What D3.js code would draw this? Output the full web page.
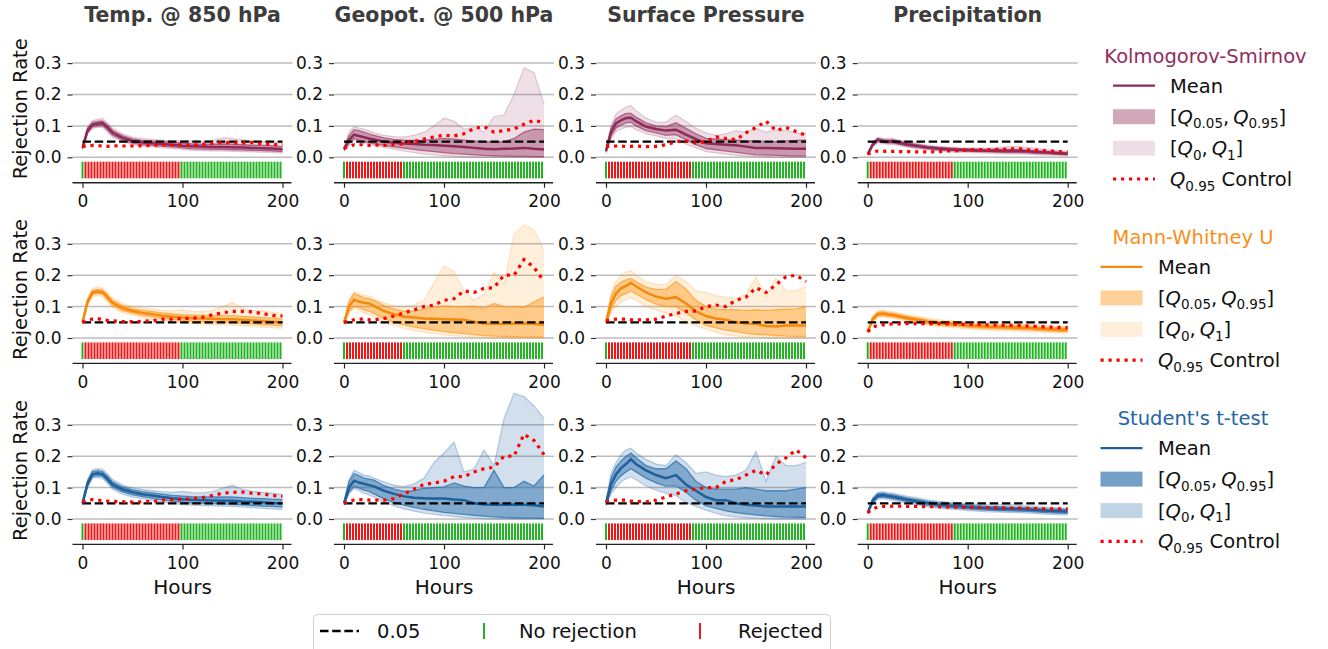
<!DOCTYPE html>
<html>
<head>
<meta charset="utf-8">
<script src="https://cdn.jsdelivr.net/npm/d3@7"></script>
<style>
  body { margin: 0; background: #fff; }
  text { font-family: "DejaVu Sans", sans-serif; }
</style>
</head>
<body>
<div id="chart"></div>
<script>
// lead times (hours) at which the curves are read
var hours = [0, 5, 10, 15, 20, 25, 30, 40, 50, 60, 70, 80, 90, 100, 110, 120, 130, 140, 150, 160, 170, 180, 190, 200];
var variables = ["Temp. @ 850 hPa", "Geopot. @ 500 hPa", "Surface Pressure", "Precipitation"];
var testNames = ["Kolmogorov-Smirnov", "Mann-Whitney U", "Student's t-test"];
var yTicks = [0, 0.1, 0.2, 0.3];
var xTicks = [0, 100, 200];
var threshold = 0.05;
// rejection test time steps (every 3 h) and the span of rejected steps per variable
var stepHours = d3.range(0, 201, 3);
var rejectedSpan = [[3, 96], [3, 57], [3, 84], [3, 84]];

// ---- Kolmogorov-Smirnov (rows: temp, geopot, surface pressure, precip)
var ksMean = [
  [0.030, 0.085, 0.104, 0.107, 0.109, 0.095, 0.078, 0.062, 0.052, 0.047, 0.045, 0.042, 0.040, 0.037, 0.035, 0.034, 0.033, 0.033, 0.032, 0.031, 0.030, 0.029, 0.028, 0.026],
  [0.025, 0.055, 0.072, 0.068, 0.064, 0.060, 0.057, 0.050, 0.046, 0.044, 0.042, 0.040, 0.039, 0.037, 0.035, 0.033, 0.030, 0.027, 0.026, 0.027, 0.028, 0.030, 0.027, 0.025],
  [0.020, 0.080, 0.108, 0.118, 0.125, 0.126, 0.115, 0.098, 0.090, 0.085, 0.088, 0.072, 0.058, 0.045, 0.042, 0.040, 0.038, 0.034, 0.030, 0.030, 0.029, 0.028, 0.027, 0.027],
  [0.010, 0.040, 0.056, 0.052, 0.050, 0.051, 0.047, 0.041, 0.036, 0.031, 0.028, 0.026, 0.024, 0.023, 0.022, 0.021, 0.021, 0.020, 0.020, 0.019, 0.017, 0.015, 0.013, 0.011]
];
var ksQ95 = [
  [0.033, 0.092, 0.111, 0.114, 0.116, 0.103, 0.086, 0.069, 0.059, 0.054, 0.052, 0.050, 0.048, 0.045, 0.043, 0.042, 0.042, 0.043, 0.042, 0.040, 0.039, 0.038, 0.037, 0.034],
  [0.029, 0.068, 0.088, 0.085, 0.080, 0.075, 0.070, 0.062, 0.057, 0.055, 0.054, 0.055, 0.057, 0.060, 0.058, 0.055, 0.052, 0.050, 0.048, 0.050, 0.060, 0.080, 0.090, 0.088],
  [0.024, 0.092, 0.122, 0.132, 0.140, 0.140, 0.128, 0.110, 0.100, 0.098, 0.110, 0.092, 0.075, 0.060, 0.058, 0.056, 0.055, 0.052, 0.053, 0.050, 0.050, 0.052, 0.054, 0.055],
  [0.012, 0.045, 0.060, 0.057, 0.055, 0.056, 0.052, 0.046, 0.040, 0.035, 0.032, 0.030, 0.028, 0.027, 0.026, 0.025, 0.026, 0.025, 0.025, 0.023, 0.021, 0.019, 0.017, 0.015]
];
var ksQ05 = [
  [0.027, 0.078, 0.097, 0.100, 0.102, 0.087, 0.070, 0.055, 0.045, 0.040, 0.038, 0.035, 0.033, 0.030, 0.027, 0.026, 0.025, 0.025, 0.024, 0.023, 0.022, 0.021, 0.020, 0.018],
  [0.022, 0.045, 0.060, 0.055, 0.050, 0.047, 0.043, 0.038, 0.033, 0.029, 0.025, 0.021, 0.018, 0.015, 0.012, 0.010, 0.008, 0.006, 0.005, 0.004, 0.003, 0.003, 0.002, 0.002],
  [0.017, 0.068, 0.093, 0.102, 0.110, 0.112, 0.100, 0.085, 0.078, 0.070, 0.072, 0.055, 0.040, 0.028, 0.024, 0.020, 0.016, 0.012, 0.008, 0.007, 0.006, 0.005, 0.004, 0.004],
  [0.008, 0.036, 0.051, 0.047, 0.045, 0.046, 0.042, 0.036, 0.031, 0.027, 0.024, 0.022, 0.020, 0.019, 0.018, 0.017, 0.016, 0.015, 0.015, 0.014, 0.012, 0.011, 0.009, 0.008]
];
var ksQ1 = [
  [0.036, 0.097, 0.117, 0.121, 0.124, 0.110, 0.093, 0.075, 0.064, 0.060, 0.057, 0.055, 0.054, 0.053, 0.052, 0.051, 0.054, 0.062, 0.060, 0.056, 0.052, 0.050, 0.052, 0.045],
  [0.032, 0.080, 0.097, 0.093, 0.090, 0.085, 0.078, 0.070, 0.066, 0.065, 0.070, 0.080, 0.100, 0.125, 0.115, 0.090, 0.095, 0.080, 0.130, 0.135, 0.200, 0.285, 0.270, 0.170],
  [0.028, 0.100, 0.138, 0.150, 0.160, 0.165, 0.148, 0.125, 0.112, 0.112, 0.135, 0.115, 0.092, 0.078, 0.070, 0.075, 0.085, 0.080, 0.092, 0.080, 0.088, 0.085, 0.078, 0.075],
  [0.014, 0.048, 0.064, 0.061, 0.060, 0.060, 0.056, 0.050, 0.044, 0.039, 0.035, 0.033, 0.031, 0.030, 0.030, 0.029, 0.031, 0.034, 0.035, 0.031, 0.028, 0.024, 0.021, 0.018]
];
var ksQ0 = [
  [0.024, 0.073, 0.092, 0.095, 0.096, 0.080, 0.064, 0.050, 0.040, 0.035, 0.033, 0.030, 0.028, 0.025, 0.022, 0.021, 0.020, 0.020, 0.019, 0.018, 0.017, 0.016, 0.015, 0.013],
  [0.020, 0.038, 0.055, 0.050, 0.045, 0.040, 0.037, 0.032, 0.026, 0.020, 0.015, 0.010, 0.007, 0.005, 0.003, 0.001, 0, 0, 0, 0, 0, 0, 0, 0],
  [0.012, 0.058, 0.082, 0.090, 0.095, 0.098, 0.088, 0.075, 0.068, 0.060, 0.058, 0.042, 0.030, 0.018, 0.014, 0.010, 0.006, 0.004, 0.002, 0.001, 0, 0, 0, 0],
  [0.006, 0.032, 0.047, 0.043, 0.041, 0.041, 0.038, 0.032, 0.027, 0.023, 0.020, 0.018, 0.016, 0.015, 0.014, 0.013, 0.012, 0.011, 0.011, 0.010, 0.008, 0.007, 0.006, 0.005]
];
var ksCtrl = [
  [0.035, 0.036, 0.038, 0.037, 0.036, 0.035, 0.037, 0.036, 0.036, 0.037, 0.038, 0.040, 0.039, 0.040, 0.038, 0.041, 0.044, 0.047, 0.046, 0.045, 0.047, 0.043, 0.041, 0.040],
  [0.030, 0.035, 0.040, 0.040, 0.040, 0.038, 0.040, 0.038, 0.040, 0.043, 0.050, 0.058, 0.065, 0.070, 0.068, 0.075, 0.092, 0.098, 0.080, 0.085, 0.090, 0.105, 0.118, 0.110],
  [0.035, 0.035, 0.036, 0.036, 0.034, 0.035, 0.036, 0.034, 0.035, 0.040, 0.050, 0.052, 0.045, 0.050, 0.065, 0.060, 0.056, 0.078, 0.095, 0.115, 0.085, 0.095, 0.082, 0.070],
  [0.010, 0.017, 0.020, 0.019, 0.020, 0.019, 0.018, 0.018, 0.017, 0.017, 0.018, 0.020, 0.021, 0.023, 0.025, 0.024, 0.025, 0.026, 0.028, 0.024, 0.022, 0.020, 0.018, 0.017]
];

// ---- Mann-Whitney U
var mwMean = [
  [0.050, 0.115, 0.145, 0.148, 0.146, 0.130, 0.112, 0.095, 0.086, 0.080, 0.076, 0.071, 0.068, 0.065, 0.063, 0.062, 0.061, 0.060, 0.060, 0.058, 0.056, 0.054, 0.052, 0.050],
  [0.048, 0.100, 0.122, 0.116, 0.112, 0.110, 0.102, 0.086, 0.076, 0.068, 0.065, 0.062, 0.061, 0.060, 0.059, 0.058, 0.052, 0.046, 0.045, 0.045, 0.046, 0.047, 0.045, 0.042],
  [0.050, 0.110, 0.142, 0.158, 0.166, 0.175, 0.165, 0.145, 0.132, 0.125, 0.130, 0.110, 0.085, 0.070, 0.062, 0.058, 0.050, 0.046, 0.045, 0.038, 0.037, 0.040, 0.040, 0.040],
  [0.020, 0.060, 0.076, 0.078, 0.075, 0.073, 0.070, 0.063, 0.058, 0.052, 0.048, 0.045, 0.043, 0.040, 0.038, 0.036, 0.035, 0.034, 0.033, 0.032, 0.030, 0.028, 0.027, 0.026]
];
var mwQ95 = [
  [0.053, 0.122, 0.152, 0.155, 0.153, 0.138, 0.120, 0.103, 0.093, 0.088, 0.084, 0.080, 0.077, 0.074, 0.073, 0.072, 0.071, 0.071, 0.071, 0.069, 0.067, 0.065, 0.063, 0.061],
  [0.052, 0.115, 0.142, 0.135, 0.128, 0.125, 0.120, 0.103, 0.092, 0.085, 0.086, 0.092, 0.098, 0.102, 0.100, 0.100, 0.101, 0.095, 0.110, 0.100, 0.100, 0.098, 0.115, 0.130],
  [0.055, 0.130, 0.165, 0.178, 0.185, 0.190, 0.180, 0.162, 0.155, 0.155, 0.180, 0.155, 0.120, 0.100, 0.092, 0.090, 0.090, 0.088, 0.090, 0.088, 0.090, 0.092, 0.093, 0.100],
  [0.022, 0.066, 0.082, 0.084, 0.081, 0.079, 0.076, 0.069, 0.064, 0.058, 0.054, 0.051, 0.049, 0.046, 0.044, 0.042, 0.041, 0.040, 0.039, 0.038, 0.036, 0.034, 0.033, 0.032]
];
var mwQ05 = [
  [0.047, 0.108, 0.138, 0.141, 0.139, 0.122, 0.104, 0.087, 0.079, 0.072, 0.068, 0.062, 0.059, 0.056, 0.053, 0.052, 0.051, 0.050, 0.049, 0.047, 0.045, 0.043, 0.041, 0.039],
  [0.045, 0.085, 0.102, 0.096, 0.090, 0.086, 0.078, 0.062, 0.050, 0.042, 0.035, 0.030, 0.025, 0.020, 0.017, 0.014, 0.011, 0.008, 0.006, 0.005, 0.004, 0.003, 0.003, 0.002],
  [0.046, 0.090, 0.120, 0.135, 0.142, 0.150, 0.140, 0.122, 0.108, 0.100, 0.100, 0.080, 0.058, 0.040, 0.032, 0.025, 0.020, 0.015, 0.012, 0.010, 0.008, 0.006, 0.005, 0.005],
  [0.018, 0.054, 0.070, 0.072, 0.069, 0.067, 0.064, 0.057, 0.052, 0.046, 0.042, 0.039, 0.037, 0.034, 0.032, 0.030, 0.029, 0.028, 0.027, 0.026, 0.024, 0.022, 0.021, 0.020]
];
var mwQ1 = [
  [0.056, 0.128, 0.158, 0.162, 0.160, 0.146, 0.128, 0.110, 0.100, 0.095, 0.092, 0.088, 0.086, 0.090, 0.085, 0.084, 0.088, 0.100, 0.112, 0.095, 0.088, 0.086, 0.082, 0.078],
  [0.055, 0.122, 0.148, 0.142, 0.136, 0.134, 0.126, 0.112, 0.103, 0.100, 0.105, 0.120, 0.175, 0.230, 0.210, 0.150, 0.120, 0.140, 0.210, 0.170, 0.330, 0.360, 0.345, 0.280],
  [0.058, 0.145, 0.180, 0.200, 0.210, 0.215, 0.200, 0.180, 0.170, 0.170, 0.200, 0.180, 0.150, 0.145, 0.135, 0.130, 0.125, 0.140, 0.195, 0.130, 0.190, 0.150, 0.150, 0.165],
  [0.024, 0.070, 0.087, 0.089, 0.086, 0.084, 0.081, 0.074, 0.069, 0.063, 0.059, 0.056, 0.054, 0.051, 0.049, 0.047, 0.047, 0.048, 0.046, 0.044, 0.042, 0.039, 0.037, 0.036]
];
var mwQ0 = [
  [0.044, 0.102, 0.132, 0.135, 0.132, 0.114, 0.097, 0.080, 0.072, 0.065, 0.060, 0.055, 0.051, 0.048, 0.045, 0.044, 0.043, 0.042, 0.041, 0.039, 0.037, 0.035, 0.033, 0.031],
  [0.043, 0.078, 0.095, 0.088, 0.080, 0.075, 0.068, 0.052, 0.040, 0.030, 0.024, 0.018, 0.014, 0.010, 0.007, 0.005, 0.003, 0.001, 0, 0, 0, 0, 0, 0],
  [0.043, 0.080, 0.100, 0.115, 0.122, 0.128, 0.120, 0.100, 0.090, 0.080, 0.072, 0.050, 0.038, 0.028, 0.018, 0.010, 0.006, 0.004, 0.002, 0.001, 0, 0, 0, 0],
  [0.016, 0.050, 0.065, 0.067, 0.064, 0.062, 0.059, 0.052, 0.047, 0.041, 0.037, 0.034, 0.032, 0.029, 0.027, 0.025, 0.024, 0.023, 0.022, 0.021, 0.019, 0.017, 0.016, 0.015]
];
var mwCtrl = [
  [0.050, 0.058, 0.060, 0.062, 0.058, 0.056, 0.055, 0.052, 0.052, 0.053, 0.055, 0.060, 0.060, 0.062, 0.063, 0.066, 0.074, 0.080, 0.085, 0.085, 0.083, 0.078, 0.072, 0.070],
  [0.050, 0.055, 0.058, 0.060, 0.060, 0.058, 0.058, 0.062, 0.070, 0.080, 0.090, 0.100, 0.105, 0.120, 0.125, 0.150, 0.145, 0.158, 0.160, 0.200, 0.200, 0.250, 0.225, 0.180],
  [0.055, 0.058, 0.060, 0.060, 0.060, 0.058, 0.058, 0.058, 0.060, 0.070, 0.078, 0.085, 0.086, 0.100, 0.105, 0.100, 0.120, 0.130, 0.160, 0.145, 0.170, 0.195, 0.200, 0.180],
  [0.020, 0.035, 0.040, 0.042, 0.044, 0.045, 0.045, 0.046, 0.046, 0.045, 0.046, 0.045, 0.044, 0.043, 0.043, 0.042, 0.041, 0.040, 0.040, 0.038, 0.037, 0.035, 0.034, 0.033]
];

// ---- Student's t-test
var ttMean = [
  [0.050, 0.112, 0.143, 0.146, 0.143, 0.128, 0.110, 0.094, 0.085, 0.079, 0.075, 0.070, 0.066, 0.063, 0.061, 0.060, 0.059, 0.058, 0.058, 0.056, 0.055, 0.053, 0.051, 0.050],
  [0.050, 0.100, 0.122, 0.116, 0.112, 0.108, 0.104, 0.090, 0.080, 0.072, 0.068, 0.066, 0.065, 0.065, 0.062, 0.060, 0.050, 0.046, 0.045, 0.045, 0.046, 0.045, 0.044, 0.040],
  [0.050, 0.110, 0.142, 0.162, 0.175, 0.190, 0.175, 0.155, 0.140, 0.130, 0.140, 0.110, 0.090, 0.070, 0.060, 0.060, 0.050, 0.045, 0.043, 0.040, 0.040, 0.040, 0.040, 0.040],
  [0.020, 0.058, 0.074, 0.076, 0.073, 0.071, 0.068, 0.061, 0.056, 0.050, 0.046, 0.043, 0.041, 0.038, 0.036, 0.034, 0.033, 0.032, 0.031, 0.030, 0.028, 0.026, 0.025, 0.024]
];
var ttQ95 = [
  [0.053, 0.120, 0.151, 0.154, 0.151, 0.136, 0.118, 0.102, 0.093, 0.087, 0.083, 0.079, 0.075, 0.073, 0.071, 0.070, 0.070, 0.070, 0.070, 0.068, 0.066, 0.065, 0.063, 0.062],
  [0.054, 0.118, 0.145, 0.138, 0.130, 0.127, 0.124, 0.106, 0.095, 0.088, 0.090, 0.098, 0.100, 0.102, 0.115, 0.105, 0.100, 0.100, 0.155, 0.100, 0.100, 0.120, 0.105, 0.140],
  [0.055, 0.130, 0.165, 0.185, 0.200, 0.210, 0.195, 0.170, 0.160, 0.160, 0.185, 0.160, 0.120, 0.100, 0.095, 0.095, 0.095, 0.100, 0.095, 0.090, 0.090, 0.090, 0.095, 0.100],
  [0.022, 0.064, 0.080, 0.082, 0.079, 0.077, 0.074, 0.067, 0.062, 0.056, 0.052, 0.049, 0.047, 0.044, 0.042, 0.040, 0.039, 0.038, 0.037, 0.036, 0.034, 0.032, 0.031, 0.030]
];
var ttQ05 = [
  [0.047, 0.105, 0.135, 0.138, 0.135, 0.120, 0.102, 0.086, 0.077, 0.071, 0.066, 0.061, 0.057, 0.053, 0.051, 0.050, 0.049, 0.048, 0.047, 0.045, 0.043, 0.041, 0.040, 0.038],
  [0.046, 0.086, 0.104, 0.098, 0.092, 0.088, 0.080, 0.064, 0.052, 0.044, 0.037, 0.031, 0.026, 0.021, 0.018, 0.015, 0.012, 0.009, 0.007, 0.005, 0.004, 0.003, 0.003, 0.002],
  [0.046, 0.090, 0.120, 0.138, 0.150, 0.160, 0.150, 0.130, 0.115, 0.105, 0.105, 0.085, 0.060, 0.042, 0.034, 0.026, 0.020, 0.016, 0.013, 0.010, 0.008, 0.006, 0.005, 0.005],
  [0.018, 0.052, 0.068, 0.070, 0.067, 0.065, 0.062, 0.055, 0.050, 0.044, 0.040, 0.037, 0.035, 0.032, 0.030, 0.028, 0.027, 0.026, 0.025, 0.024, 0.022, 0.020, 0.019, 0.018]
];
var ttQ1 = [
  [0.056, 0.126, 0.157, 0.160, 0.158, 0.144, 0.126, 0.108, 0.099, 0.094, 0.090, 0.087, 0.085, 0.088, 0.084, 0.083, 0.087, 0.098, 0.108, 0.094, 0.088, 0.085, 0.082, 0.078],
  [0.057, 0.126, 0.155, 0.148, 0.140, 0.137, 0.130, 0.118, 0.108, 0.103, 0.112, 0.130, 0.180, 0.210, 0.245, 0.150, 0.160, 0.220, 0.170, 0.320, 0.400, 0.390, 0.360, 0.320],
  [0.058, 0.145, 0.180, 0.205, 0.220, 0.225, 0.210, 0.190, 0.175, 0.170, 0.205, 0.180, 0.145, 0.150, 0.140, 0.135, 0.140, 0.155, 0.215, 0.120, 0.200, 0.170, 0.170, 0.180],
  [0.024, 0.068, 0.085, 0.087, 0.084, 0.082, 0.079, 0.072, 0.067, 0.061, 0.057, 0.054, 0.052, 0.049, 0.047, 0.045, 0.045, 0.046, 0.044, 0.042, 0.040, 0.037, 0.035, 0.034]
];
var ttQ0 = [
  [0.044, 0.100, 0.130, 0.132, 0.129, 0.113, 0.095, 0.079, 0.070, 0.064, 0.059, 0.054, 0.050, 0.046, 0.044, 0.043, 0.042, 0.041, 0.040, 0.038, 0.036, 0.034, 0.032, 0.030],
  [0.044, 0.080, 0.097, 0.090, 0.082, 0.077, 0.070, 0.054, 0.042, 0.032, 0.025, 0.019, 0.015, 0.011, 0.008, 0.005, 0.003, 0.001, 0, 0, 0, 0, 0, 0],
  [0.043, 0.080, 0.100, 0.118, 0.128, 0.135, 0.125, 0.105, 0.092, 0.082, 0.075, 0.052, 0.040, 0.028, 0.018, 0.010, 0.006, 0.004, 0.002, 0.001, 0, 0, 0, 0],
  [0.016, 0.048, 0.063, 0.065, 0.062, 0.060, 0.057, 0.050, 0.045, 0.039, 0.035, 0.032, 0.030, 0.027, 0.025, 0.023, 0.022, 0.021, 0.020, 0.019, 0.017, 0.015, 0.014, 0.013]
];
var ttCtrl = [
  [0.055, 0.060, 0.062, 0.061, 0.058, 0.057, 0.056, 0.055, 0.054, 0.055, 0.056, 0.060, 0.062, 0.063, 0.065, 0.068, 0.075, 0.082, 0.085, 0.086, 0.082, 0.080, 0.075, 0.072],
  [0.050, 0.058, 0.060, 0.062, 0.062, 0.060, 0.060, 0.060, 0.065, 0.080, 0.095, 0.110, 0.115, 0.120, 0.135, 0.135, 0.150, 0.160, 0.165, 0.200, 0.200, 0.270, 0.250, 0.205],
  [0.055, 0.058, 0.060, 0.060, 0.060, 0.057, 0.056, 0.055, 0.060, 0.070, 0.080, 0.090, 0.095, 0.100, 0.100, 0.120, 0.125, 0.140, 0.155, 0.140, 0.175, 0.195, 0.220, 0.195],
  [0.020, 0.032, 0.038, 0.040, 0.040, 0.041, 0.041, 0.040, 0.040, 0.039, 0.039, 0.038, 0.038, 0.037, 0.037, 0.036, 0.036, 0.035, 0.035, 0.034, 0.033, 0.032, 0.032, 0.032]
];

var tests = [
  {mean: ksMean, q05: ksQ05, q95: ksQ95, q0: ksQ0, q1: ksQ1, ctrl: ksCtrl},
  {mean: mwMean, q05: mwQ05, q95: mwQ95, q0: mwQ0, q1: mwQ1, ctrl: mwCtrl},
  {mean: ttMean, q05: ttQ05, q95: ttQ95, q0: ttQ0, q1: ttQ1, ctrl: ttCtrl}
];
// a05/a0: band opacity in the panels, l05/l0: patch opacity in the legend
var styles = [
  {color: "#8b2252", line: "#8e2a5a", title: "#922d5c", a05: 0.38, a0: 0.14, l05: 0.4, l0: 0.15},
  {color: "#ff8c00", line: "#f5890a", title: "#f7901a", a05: 0.38, a0: 0.14, l05: 0.4, l0: 0.15},
  {color: "#1f66a6", line: "#1f5f9b", title: "#2366a4", a05: 0.45, a0: 0.2, l05: 0.62, l0: 0.28}
];
var green = "#22b422", red = "#ee1616";

// layout
var svgWidth = 1328, svgHeight = 649;
var colLeft = [82.5, 344, 606, 867.7];   // pixel of hour 0 in each column
var rowZero = [157.3, 338, 519];         // pixel of rate 0 in each row
var pxPerUnit = 314;

var svg = d3.select("#chart").append("svg")
  .attr("width", svgWidth)
  .attr("height", svgHeight);
svg.append("rect").attr("width", svgWidth).attr("height", svgHeight).attr("fill", "#fff");

tests.forEach(function(test, r) {
  var st = styles[r];
  variables.forEach(function(name, c) {
    var x = d3.scaleLinear().domain([0, 200]).range([colLeft[c], colLeft[c] + 200]);
    var y = d3.scaleLinear().domain([0, 0.3]).range([rowZero[r], rowZero[r] - 0.3 * pxPerUnit]);
    var g = svg.append("g");

    // grid
    g.selectAll(".grid").data(yTicks).enter().append("line")
      .attr("x1", x(-10)).attr("x2", x(210))
      .attr("y1", d => y(d)).attr("y2", d => y(d))
      .attr("stroke", "#bdbdbd").attr("stroke-width", 1.5);

    // y axis (ticks + labels only)
    var leftAxis = d3.axisLeft(y).tickValues(yTicks).tickFormat(d3.format(".1f")).tickSize(5).tickPadding(6);
    var ya = g.append("g").attr("transform", `translate(${x(-10)},0)`).call(leftAxis);
    ya.select(".domain").remove();
    ya.selectAll("line").attr("stroke", "#333").attr("stroke-width", 1.2);
    ya.selectAll("text").attr("font-size", 17).attr("fill", "#111").attr("font-family", "DejaVu Sans");

    // x axis
    var ySpine = y(-0.081);
    var bottomAxis = d3.axisBottom(x).tickValues(xTicks).tickSize(5).tickPadding(7.5);
    var xa = g.append("g").attr("transform", `translate(0,${ySpine})`).call(bottomAxis);
    xa.select(".domain").remove();
    xa.selectAll("line").attr("stroke", "#222").attr("stroke-width", 1.2);
    xa.selectAll("text").attr("font-size", 17).attr("fill", "#111").attr("font-family", "DejaVu Sans");
    g.append("line").attr("x1", x(-10)).attr("x2", x(209)).attr("y1", ySpine).attr("y2", ySpine)
      .attr("stroke", "#222").attr("stroke-width", 1.3);

    var q0 = test.q0[c], q1 = test.q1[c], q05 = test.q05[c], q95 = test.q95[c];
    var band = function(lo, hi) {
      return d3.area().x((d, i) => x(hours[i])).y0((d, i) => y(lo[i])).y1((d, i) => y(hi[i]))(hours);
    };
    var line = d3.line().x((d, i) => x(hours[i])).y(d => y(d));

    // [Q0, Q1]
    g.append("path").attr("d", band(q0, q1)).attr("fill", st.color).attr("fill-opacity", st.a0);
    [q0, q1].forEach(function(s) {
      g.append("path").attr("d", line(s)).attr("fill", "none")
        .attr("stroke", st.color).attr("stroke-opacity", st.a0 * 1.4).attr("stroke-width", 1.3);
    });
    // [Q0.05, Q0.95]
    g.append("path").attr("d", band(q05, q95)).attr("fill", st.color).attr("fill-opacity", st.a05);
    [q05, q95].forEach(function(s) {
      g.append("path").attr("d", line(s)).attr("fill", "none")
        .attr("stroke", st.color).attr("stroke-opacity", Math.min(1, st.a05 * 1.5)).attr("stroke-width", 1.3);
    });
    // mean
    g.append("path").attr("d", line(test.mean[c])).attr("fill", "none")
      .attr("stroke", st.line).attr("stroke-width", 2.5);
    // 0.05 reference
    g.append("line").attr("x1", x(0)).attr("x2", x(200))
      .attr("y1", y(threshold)).attr("y2", y(threshold))
      .attr("stroke", "#000").attr("stroke-width", 2.3).attr("stroke-dasharray", "8.5,3.7");
    // control
    g.append("path").attr("d", line(test.ctrl[c])).attr("fill", "none")
      .attr("stroke", "#ff0000").attr("stroke-width", 3.2).attr("stroke-dasharray", "3.2,4.8");

    // rejection stripes
    var span = rejectedSpan[c];
    g.selectAll(".stripe").data(stepHours).enter().append("rect")
      .attr("x", d => x(d) - 1)
      .attr("width", 2)
      .attr("y", y(-0.014))
      .attr("height", y(-0.067) - y(-0.014))
      .attr("fill", d => (d >= span[0] && d <= span[1]) ? red : green);

    // labels
    if (r === 0) {
      svg.append("text").attr("x", x(100)).attr("y", 22).attr("text-anchor", "middle")
        .attr("font-size", 20.5).attr("font-weight", "bold").attr("fill", "#3d3d3d").text(name);
    }
    if (r === 2) {
      svg.append("text").attr("x", x(100)).attr("y", 594).attr("text-anchor", "middle")
        .attr("font-size", 20).attr("fill", "#111").text("Hours");
    }
    if (c === 0) {
      svg.append("text")
        .attr("transform", `translate(27,${rowZero[r] - 48.5}) rotate(-90)`)
        .attr("text-anchor", "middle").attr("font-size", 19.5).attr("fill", "#111")
        .text("Rejection Rate");
    }
  });
});

// ---- legends on the right
function mathLabel(sel, parts) {
  parts.forEach(function(p) {
    var t = sel.append("tspan").text(p.t);
    if (p.it) t.attr("font-style", "italic");
    if (p.sub) t.attr("font-size", 13.5).attr("dy", 4.5);
    if (p.up) t.attr("dy", -4.5);
  });
}
tests.forEach(function(test, r) {
  var st = styles[r];
  var off = r * 181.2;
  var lx = r === 0 ? 1113 : 1100.5;
  var tx = r === 0 ? 1170 : 1158;
  var cx = r === 0 ? 1205.5 : 1193;
  var lg = svg.append("g");
  lg.append("text").attr("x", cx).attr("y", 63 + off).attr("text-anchor", "middle")
    .attr("font-size", 19.5).attr("fill", st.title).text(testNames[r]);
  var rows = [85.7, 116.7, 148.2, 179].map(v => v + off);
  lg.append("line").attr("x1", lx).attr("x2", lx + 42).attr("y1", rows[0]).attr("y2", rows[0])
    .attr("stroke", st.line).attr("stroke-width", 2.2);
  lg.append("rect").attr("x", lx).attr("y", rows[1] - 7.5).attr("width", 42).attr("height", 15)
    .attr("fill", st.color).attr("fill-opacity", st.l05);
  lg.append("rect").attr("x", lx).attr("y", rows[2] - 7.5).attr("width", 42).attr("height", 15)
    .attr("fill", st.color).attr("fill-opacity", st.l0);
  lg.append("line").attr("x1", lx).attr("x2", lx + 42).attr("y1", rows[3]).attr("y2", rows[3])
    .attr("stroke", "#ff0000").attr("stroke-width", 3.2).attr("stroke-dasharray", "3.2,4.8");

  lg.append("text").attr("x", tx).attr("y", rows[0] + 7).attr("font-size", 19.5).attr("fill", "#111").text("Mean");
  mathLabel(lg.append("text").attr("x", tx).attr("y", rows[1] + 7).attr("font-size", 19.5).attr("fill", "#111"),
    [{t: "["}, {t: "Q", it: true}, {t: "0.05", sub: true}, {t: ",\u2009", up: true}, {t: "Q", it: true},
     {t: "0.95", sub: true}, {t: "]", up: true}]);
  mathLabel(lg.append("text").attr("x", tx).attr("y", rows[2] + 7).attr("font-size", 19.5).attr("fill", "#111"),
    [{t: "["}, {t: "Q", it: true}, {t: "0", sub: true}, {t: ",\u2009", up: true}, {t: "Q", it: true},
     {t: "1", sub: true}, {t: "]", up: true}]);
  mathLabel(lg.append("text").attr("x", tx).attr("y", rows[3] + 7).attr("font-size", 19.5).attr("fill", "#111"),
    [{t: "Q", it: true}, {t: "0.95", sub: true}, {t: " Control", up: true}]);
});

// ---- bottom legend
var bl = svg.append("g");
bl.append("rect").attr("x", 313.5).attr("y", 614.5).attr("width", 517).attr("height", 44).attr("rx", 4)
  .attr("fill", "#fff").attr("stroke", "#d0d0d0").attr("stroke-width", 1);
bl.append("line").attr("x1", 320).attr("x2", 359).attr("y1", 631).attr("y2", 631)
  .attr("stroke", "#000").attr("stroke-width", 2.3).attr("stroke-dasharray", "8.5,3.7");
bl.append("text").attr("x", 377).attr("y", 638).attr("font-size", 19.5).attr("fill", "#111").text("0.05");
bl.append("line").attr("x1", 484).attr("x2", 484).attr("y1", 623).attr("y2", 639)
  .attr("stroke", green).attr("stroke-width", 2);
bl.append("text").attr("x", 519).attr("y", 638).attr("font-size", 19.5).attr("fill", "#111").text("No rejection");
bl.append("line").attr("x1", 700).attr("x2", 700).attr("y1", 623).attr("y2", 639)
  .attr("stroke", red).attr("stroke-width", 2);
bl.append("text").attr("x", 738).attr("y", 638).attr("font-size", 19.5).attr("fill", "#111").text("Rejected");
</script>
</body>
</html>
